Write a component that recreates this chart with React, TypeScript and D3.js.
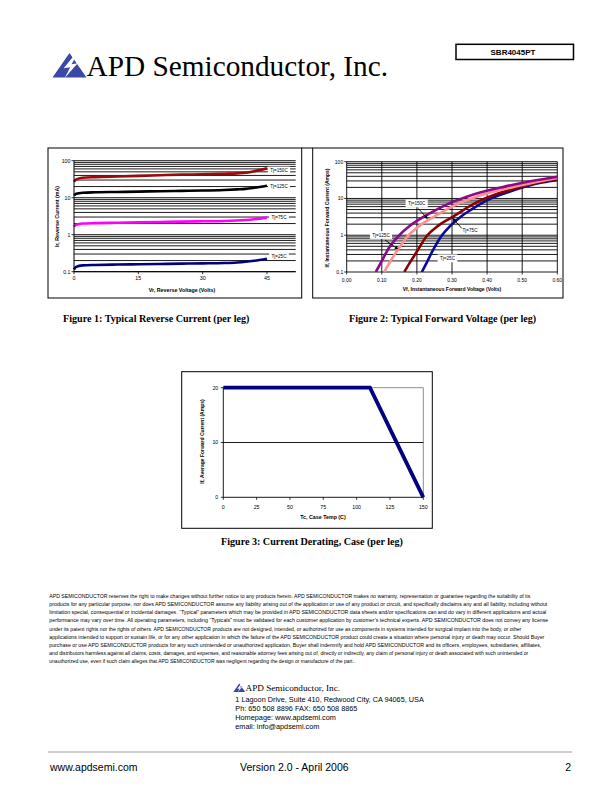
import React from 'react';
import * as d3 from 'd3';

// ---------- Figure 1 data: reverse current (mA) vs reverse voltage (V)
const fig1Voltage = [0, 0.5, 2, 5, 10, 15, 20, 25, 30, 35, 38, 40, 42, 45];
const fig1Tj150 = [27, 31, 34.5, 36, 37.5, 39, 40.5, 42, 43, 44.5, 45.5, 47, 52, 62];
const fig1Tj125 = [11.5, 12.8, 13.6, 14, 14.3, 14.6, 15, 15.3, 15.6, 16.2, 16.8, 17.3, 18.5, 21];
const fig1Tj75 = [1.65, 1.85, 2.0, 2.05, 2.1, 2.15, 2.2, 2.25, 2.3, 2.35, 2.42, 2.5, 2.62, 2.9];
const fig1Tj25 = [0.115, 0.135, 0.148, 0.152, 0.156, 0.159, 0.162, 0.165, 0.168, 0.172, 0.178, 0.186, 0.198, 0.225];
const fig1XTicks = [0, 15, 30, 45];
const fig1YTicks = [0.1, 1, 10, 100];
const fig1YTickLabels = ['0.1', '1', '10', '100'];

// ---------- Figure 2 data: forward current (A) vs forward voltage (V)
const fig2Tj150V = [0.083, 0.1, 0.12, 0.15, 0.18, 0.215, 0.25, 0.295, 0.34, 0.38, 0.45, 0.52, 0.6];
const fig2Tj150I = [0.1, 0.2, 0.45, 1.0, 1.8, 3.0, 4.6, 7.6, 11, 14.5, 21, 29, 39];
const fig2Tj125V = [0.107, 0.125, 0.147, 0.172, 0.2, 0.235, 0.27, 0.315, 0.36, 0.4, 0.47, 0.54, 0.6];
const fig2Tj125I = [0.1, 0.2, 0.42, 0.9, 1.6, 2.7, 4.2, 7.0, 10.3, 13.8, 20, 28, 36];
const fig2Tj75V = [0.164, 0.18, 0.2, 0.228, 0.26, 0.298, 0.33, 0.37, 0.41, 0.45, 0.5, 0.55, 0.6];
const fig2Tj75I = [0.1, 0.18, 0.36, 0.95, 1.8, 3.0, 4.7, 7.8, 11.5, 15.5, 21, 27.5, 34];
const fig2Tj25V = [0.214, 0.228, 0.245, 0.268, 0.295, 0.325, 0.355, 0.39, 0.43, 0.47, 0.52, 0.56, 0.6];
const fig2Tj25I = [0.1, 0.18, 0.38, 0.9, 1.8, 3.2, 5.0, 8.0, 11.8, 16, 22.5, 27.5, 32];
const fig2XTicks = [0, 0.1, 0.2, 0.3, 0.4, 0.5, 0.6];
const fig2XTickLabels = ['0.00', '0.10', '0.20', '0.30', '0.40', '0.50', '0.60'];
const fig2YTicks = [0.1, 1, 10, 100];
const fig2YTickLabels = ['0.1', '1', '10', '100'];

// ---------- Figure 3 data: derating
const fig3Temp = [0, 110, 150];
const fig3Current = [20, 20, 0];
const fig3XTicks = [0, 25, 50, 75, 100, 125, 150];
const fig3YTicks = [0, 10, 20];

const disclaimerLines = [
  'APD SEMICONDUCTOR reserves the right to make changes without further notice to any products herein. APD SEMICONDUCTOR makes no warranty, representation or guarantee regarding the suitability of its',
  'products for any particular purpose, nor does APD SEMICONDUCTOR assume any liability arising out of the application or use of any product or circuit, and specifically disclaims any and all liability, including without',
  'limitation special, consequential or incidental damages. \u201CTypical\u201D parameters which may be provided in APD SEMICONDUCTOR data sheets and/or specifications can and do vary in different applications and actual',
  'performance may vary over time. All operating parameters, including \u201CTypicals\u201D must be validated for each customer application by customer\u2019s technical experts. APD SEMICONDUCTOR does not convey any license',
  'under its patent rights nor the rights of others. APD SEMICONDUCTOR products are not designed, intended, or authorized for use as components in systems intended for surgical implant into the body, or other',
  'applications intended to support or sustain life, or for any other application in which the failure of the APD SEMICONDUCTOR product could create a situation where personal injury or death may occur. Should Buyer',
  'purchase or use APD SEMICONDUCTOR products for any such unintended or unauthorized application, Buyer shall indemnify and hold APD SEMICONDUCTOR and its officers, employees, subsidiaries, affiliates,',
  'and distributors harmless against all claims, costs, damages, and expenses, and reasonable attorney fees arising out of, directly or indirectly, any claim of personal injury or death associated with such unintended or',
  'unauthorized use, even if such claim alleges that APD SEMICONDUCTOR was negligent regarding the design or manufacture of the part..',
];
const disclaimerWidths = [481, 498, 497, 499, 472, 495, 492, 479, 306];

const addressLines = [
  '1 Lagoon Drive, Suite 410, Redwood City, CA 94065, USA',
  'Ph: 650 508 8896 FAX: 650 508 8865',
  'Homepage: www.apdsemi.com',
  'email: info@apdsemi.com',
];

const SANS = 'Liberation Sans, Arial, sans-serif';
const SERIF = 'Liberation Serif, Times New Roman, serif';

function logMinorValues(lo: number, hi: number) {
  const out: number[] = [];
  for (let d = lo; d < hi; d *= 10) {
    for (let k = 1; k <= 9; k++) out.push(+(d * k).toPrecision(3));
  }
  out.push(hi);
  return out;
}

function Logo({ x, y, s }: { x: number; y: number; s: number }) {
  const w = 34 * s, h = 24.6 * s;
  const tri = `${x},${y + h} ${x + w / 2},${y} ${x + w},${y + h}`;
  const bolt = [
    [x + w * 0.62, y + h * 0.12],
    [x + w * 0.33, y + h * 0.62],
    [x + w * 0.52, y + h * 0.58],
    [x + w * 0.36, y + h * 1.02],
    [x + w * 0.74, y + h * 0.42],
    [x + w * 0.56, y + h * 0.46],
    [x + w * 0.7, y + h * 0.12],
  ].map((p) => p.join(',')).join(' ');
  return (
    <g>
      <polygon points={tri} fill="#3a48a8" />
      <polygon points={bolt} fill="#ffffff" />
    </g>
  );
}

function Label({ x, y, text, size = 4.6 }: { x: number; y: number; text: string; size?: number }) {
  const w = text.length * size * 0.5 + 6;
  return (
    <g>
      <rect x={x - w / 2} y={y - size * 0.85} width={w} height={size * 1.7} fill="#fff" />
      <text x={x} y={y + size * 0.35} fontSize={size} fontFamily={SANS} textAnchor="middle" fill="#000">
        {text}
      </text>
    </g>
  );
}

function Arrow({ x1, y1, x2, y2 }: { x1: number; y1: number; x2: number; y2: number }) {
  const ang = Math.atan2(y2 - y1, x2 - x1);
  const L = 3.6, Wd = 1.8;
  const bx = x2 - L * Math.cos(ang), by = y2 - L * Math.sin(ang);
  const p1 = [bx + Wd * Math.sin(ang), by - Wd * Math.cos(ang)];
  const p2 = [bx - Wd * Math.sin(ang), by + Wd * Math.cos(ang)];
  return (
    <g>
      <line x1={x1} y1={y1} x2={bx} y2={by} stroke="#000" strokeWidth={0.9} />
      <polygon points={`${x2},${y2} ${p1.join(',')} ${p2.join(',')}`} fill="#000" />
    </g>
  );
}

function Figure1() {
  const x = d3.scaleLinear().domain([0, 51.7]).range([74, 295.7]);
  const y = d3.scaleLog().domain([0.1, 100]).range([271.7, 160.7]);
  const grid = logMinorValues(0.1, 100);
  const series = [
    { name: 'Tj=150C', color: '#9a0a0a', vals: fig1Tj150 },
    { name: 'Tj=125C', color: '#000000', vals: fig1Tj125 },
    { name: 'Tj=75C', color: '#ff00ff', vals: fig1Tj75 },
    { name: 'Tj=25C', color: '#000080', vals: fig1Tj25 },
  ];
  const line = d3
    .line<number>()
    .x((_, i) => x(fig1Voltage[i]))
    .y((d) => y(d))
    .curve(d3.curveMonotoneX);
  const [x0, x1] = x.range();
  return (
    <g>
      <rect x={48} y={148} width={253.7} height={150} fill="none" stroke="#000" strokeWidth={1} />
      {grid.map((g) => (
        <line key={g} x1={x0} x2={x1} y1={y(g)} y2={y(g)} stroke="#000" strokeWidth={0.9} />
      ))}
      {series.map((s) => (
        <path key={s.name} d={line(s.vals) || ''} fill="none" stroke={s.color} strokeWidth={2.6} />
      ))}
      <line x1={x0} x2={x0} y1={y(100)} y2={y(0.1)} stroke="#000" strokeWidth={1} />
      <line x1={x0} x2={x1} y1={y(0.1)} y2={y(0.1)} stroke="#000" strokeWidth={1} />
      {fig1YTicks.map((t, i) => (
        <g key={t}>
          <line x1={x0 - 2.5} x2={x0} y1={y(t)} y2={y(t)} stroke="#000" strokeWidth={0.8} />
          <text x={x0 - 3.5} y={y(t) + 1.8} fontSize={5.3} fontFamily={SANS} textAnchor="end">
            {fig1YTickLabels[i]}
          </text>
        </g>
      ))}
      {fig1XTicks.map((t) => (
        <g key={t}>
          <line x1={x(t)} x2={x(t)} y1={y(0.1)} y2={y(0.1) + 2.5} stroke="#000" strokeWidth={0.8} />
          <text x={x(t)} y={280} fontSize={5.3} fontFamily={SANS} textAnchor="middle">
            {t}
          </text>
        </g>
      ))}
      <text x={182} y={291.5} fontSize={5.3} fontWeight="bold" fontFamily={SANS} textAnchor="middle">
        Vr, Reverse Voltage (Volts)
      </text>
      <text
        transform={`translate(58.5,216.5) rotate(-90)`}
        fontSize={5.3}
        fontWeight="bold"
        fontFamily={SANS}
        textAnchor="middle"
      >
        Ir, Reverse Current (mA)
      </text>
      <Label x={279} y={170.5} text="Tj=150C" />
      <Label x={279} y={186.5} text="Tj=125C" />
      <Label x={279} y={217.5} text="Tj=75C" />
      <Label x={279} y={256} text="Tj=25C" />
    </g>
  );
}

function Figure2() {
  const x = d3.scaleLinear().domain([0, 0.6]).range([346.7, 557.3]);
  const y = d3.scaleLog().domain([0.1, 100]).range([272, 161.7]);
  const grid = logMinorValues(0.1, 100);
  const series = [
    { name: 'Tj=25C', color: '#0a0a9a', v: fig2Tj25V, i: fig2Tj25I },
    { name: 'Tj=75C', color: '#8b0000', v: fig2Tj75V, i: fig2Tj75I },
    { name: 'Tj=125C', color: '#ff8f8f', v: fig2Tj125V, i: fig2Tj125I },
    { name: 'Tj=150C', color: '#8b0a8b', v: fig2Tj150V, i: fig2Tj150I },
  ];
  const [x0, x1] = x.range();
  return (
    <g>
      <rect x={312.7} y={148} width={250.3} height={150} fill="none" stroke="#000" strokeWidth={1} />
      <line x1={301.7} x2={312.7} y1={148} y2={148} stroke="#000" strokeWidth={1} />
      <defs>
        <clipPath id="fig2clip">
          <rect x={x0} y={y(100)} width={x1 - x0} height={y(0.1) - y(100)} />
        </clipPath>
      </defs>
      {grid.map((g) => (
        <line key={g} x1={x0} x2={x1} y1={y(g)} y2={y(g)} stroke="#000" strokeWidth={0.9} />
      ))}
      {fig2XTicks.map((t) => (
        <line key={t} x1={x(t)} x2={x(t)} y1={y(100)} y2={y(0.1)} stroke="#000" strokeWidth={0.9} />
      ))}
      <g clipPath="url(#fig2clip)">
        {series.map((s) => {
          const line = d3
            .line<number>()
            .x((d) => x(d))
            .y((_, k) => y(s.i[k]))
            .curve(d3.curveMonotoneX);
          return <path key={s.name} d={line(s.v) || ''} fill="none" stroke={s.color} strokeWidth={2.6} />;
        })}
      </g>
      {fig2YTicks.map((t, i) => (
        <g key={t}>
          <line x1={x0 - 2.5} x2={x0} y1={y(t)} y2={y(t)} stroke="#000" strokeWidth={0.8} />
          <text x={x0 - 3.5} y={y(t) + 1.8} fontSize={5} fontFamily={SANS} textAnchor="end">
            {fig2YTickLabels[i]}
          </text>
        </g>
      ))}
      {fig2XTicks.map((t, i) => (
        <g key={t}>
          <line x1={x(t)} x2={x(t)} y1={y(0.1)} y2={y(0.1) + 2.5} stroke="#000" strokeWidth={0.8} />
          <text x={x(t)} y={281.5} fontSize={5} fontFamily={SANS} textAnchor="middle">
            {fig2XTickLabels[i]}
          </text>
        </g>
      ))}
      <text x={452} y={291} fontSize={5} fontWeight="bold" fontFamily={SANS} textAnchor="middle">
        Vf, Instantaneous Forward  Voltage (Volts)
      </text>
      <text
        transform={`translate(328.5,218) rotate(-90)`}
        fontSize={5}
        fontWeight="bold"
        fontFamily={SANS}
        textAnchor="middle"
      >
        If, Instantaneous Forward Current (Amps)
      </text>
      <Label x={416.7} y={203.3} text="Tj=150C" />
      <Arrow x1={418.3} y1={208.5} x2={427.7} y2={219} />
      <Label x={381} y={235} text="Tj=125C" />
      <Arrow x1={385} y1={240} x2={398.3} y2={249.3} />
      <Label x={470} y={230} text="Tj=75C" />
      <Arrow x1={461.7} y1={228.3} x2={452.3} y2={217.7} />
      <Label x={447.5} y={258.3} text="Tj=25C" />
    </g>
  );
}

function Figure3() {
  const x = d3.scaleLinear().domain([0, 150]).range([223.3, 423.3]);
  const y = d3.scaleLinear().domain([0, 20]).range([497.3, 387.7]);
  const line = d3
    .line<number>()
    .x((d) => x(d))
    .y((_, i) => y(fig3Current[i]));
  const [x0, x1] = x.range();
  return (
    <g>
      <rect x={181.7} y={371.7} width={250.6} height={156.6} fill="none" stroke="#000" strokeWidth={1} />
      <line x1={x0} x2={x1} y1={y(20)} y2={y(20)} stroke="#808080" strokeWidth={0.9} />
      <line x1={x1} x2={x1} y1={y(20)} y2={y(0)} stroke="#808080" strokeWidth={0.9} />
      <line x1={x0} x2={x1} y1={y(10)} y2={y(10)} stroke="#000" strokeWidth={0.9} />
      <line x1={x0} x2={x0} y1={y(20)} y2={y(0)} stroke="#000" strokeWidth={0.9} />
      <line x1={x0} x2={x1} y1={y(0)} y2={y(0)} stroke="#000" strokeWidth={0.9} />
      {fig3YTicks.map((t) => (
        <g key={t}>
          <line x1={x0 - 2.5} x2={x0} y1={y(t)} y2={y(t)} stroke="#000" strokeWidth={0.8} />
          <text x={x0 - 5} y={y(t) + 1.9} fontSize={5.3} fontFamily={SANS} textAnchor="end">
            {t}
          </text>
        </g>
      ))}
      {fig3XTicks.map((t) => (
        <g key={t}>
          <line x1={x(t)} x2={x(t)} y1={y(0)} y2={y(0) + 2.5} stroke="#000" strokeWidth={0.8} />
          <text x={x(t)} y={508.5} fontSize={5.3} fontFamily={SANS} textAnchor="middle">
            {t}
          </text>
        </g>
      ))}
      <path d={line(fig3Temp) || ''} fill="none" stroke="#000080" strokeWidth={3.8} strokeLinejoin="miter" />
      <text x={323} y={518.5} fontSize={5.3} fontWeight="bold" fontFamily={SANS} textAnchor="middle">
        Tc, Case Temp (C)
      </text>
      <text
        transform={`translate(203.5,441.5) rotate(-90)`}
        fontSize={5}
        fontWeight="bold"
        fontFamily={SANS}
        textAnchor="middle"
      >
        If, Average Forward Current (Amps)
      </text>
    </g>
  );
}

export default function App() {
  return (
    <div style={{ position: 'absolute', left: 0, top: 0, width: 612, height: 792, background: '#fff' }}>
      <svg width={612} height={792} viewBox="0 0 612 792" style={{ display: 'block' }}>
        <rect x={0} y={0} width={612} height={792} fill="#fff" />
        {/* Header */}
        <Logo x={52.5} y={53} s={1} />
        <text x={86.5} y={75.7} fontSize={29.3} fontFamily={SERIF} fill="#000">
          APD Semiconductor, Inc.
        </text>
        <rect x={456} y={44.3} width={117.5} height={15.2} fill="#fff" stroke="#000" strokeWidth={1.5} />
        <text x={513} y={54.8} fontSize={8} fontWeight="bold" fontFamily={SANS} textAnchor="middle">
          SBR4045PT
        </text>

        <Figure1 />
        <Figure2 />
        <Figure3 />

        <text x={63} y={322} fontSize={10.1} fontWeight="bold" fontFamily={SERIF}>
          Figure 1: Typical Reverse Current (per leg)
        </text>
        <text x={349} y={322} fontSize={10.1} fontWeight="bold" fontFamily={SERIF}>
          Figure 2: Typical Forward Voltage (per leg)
        </text>
        <text x={221} y={545} fontSize={10.1} fontWeight="bold" fontFamily={SERIF}>
          Figure 3: Current Derating, Case (per leg)
        </text>

        {disclaimerLines.map((l, i) => (
          <text
            key={i}
            x={49.3}
            y={598 + i * 8.15}
            fontSize={4.9}
            fontFamily={SANS}
            textLength={disclaimerWidths[i]}
            lengthAdjust="spacingAndGlyphs"
          >
            {l}
          </text>
        ))}

        <Logo x={233.3} y={683.5} s={0.35} />
        <text x={245.5} y={690.5} fontSize={9.2} fontFamily={SERIF}>
          APD Semiconductor, Inc.
        </text>
        {addressLines.map((l, i) => (
          <text key={i} x={235.3} y={701.6 + i * 9} fontSize={7.3} fontFamily={SANS}>
            {l}
          </text>
        ))}

        <line x1={48} x2={572} y1={752} y2={752} stroke="#777" strokeWidth={0.7} />
        <text x={50} y={771} fontSize={10.5} fontFamily={SANS}>
          www.apdsemi.com
        </text>
        <text x={240} y={771} fontSize={10.5} fontFamily={SANS}>
          Version 2.0 - April 2006
        </text>
        <text x={571} y={771} fontSize={10.5} fontFamily={SANS} textAnchor="end">
          2
        </text>
      </svg>
    </div>
  );
}
